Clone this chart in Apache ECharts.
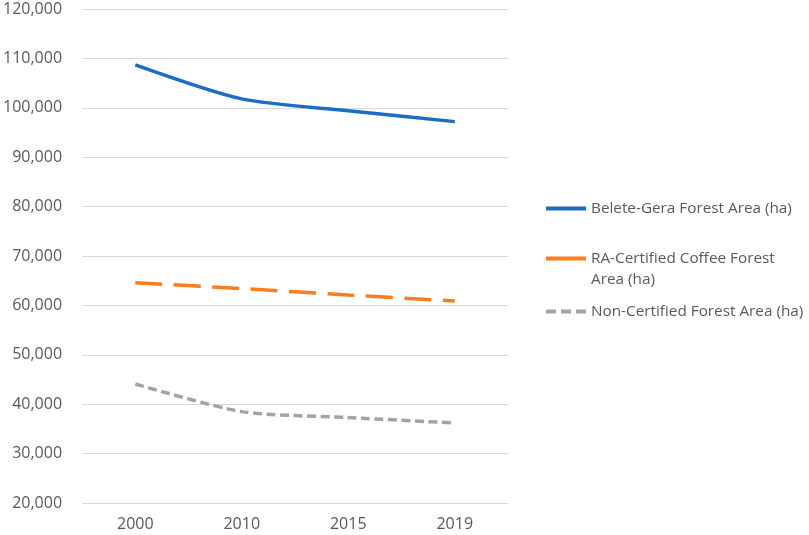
<!DOCTYPE html>
<html><head><meta charset="utf-8">
<script src="https://cdn.jsdelivr.net/npm/echarts@6/dist/echarts.min.js"></script>
<style>html,body{margin:0;padding:0;background:#fff}#c{width:809px;height:535px}</style>
</head><body><div id="c"></div>
<script>
const categories = ['2000', '2010', '2015', '2019'];
const beleteGera = [108700, 101800, 99400, 97200];
const raCertified = [64600, 63400, 62100, 60900];
const nonCertified = [44100, 38500, 37300, 36200];
const seriesNames = ['Belete-Gera Forest Area (ha)', 'RA-Certified Coffee Forest Area (ha)', 'Non-Certified Forest Area (ha)'];
const yTicks = [20000, 120000, 10000]; // min, max, step

const font = 'Open Sans, Noto Sans, sans-serif';
const txt = '#595959';
const colors = ['#1a6cc4', '#fb7d1e', '#a3a3a3'];
const chart = echarts.init(document.getElementById('c'));
const legendBase = {
  orient: 'vertical', left: 546, itemWidth: 40, itemHeight: 4, itemGap: 3, padding: 0,
  textStyle: { color: txt, fontSize: 15.3, fontFamily: font },
  selectedMode: false
};
chart.setOption({
  animation: false,
  grid: { left: 82, right: 301, top: 9, bottom: 32 },
  legend: [
    Object.assign({}, legendBase, { top: 201, data: [{ name: seriesNames[0], icon: 'rect' }] }),
    Object.assign({}, legendBase, { top: 251, data: [{ name: seriesNames[1], icon: 'rect' }],
      formatter: n => 'RA-Certified Coffee Forest' }),
    Object.assign({}, legendBase, { top: 304,
      data: [{ name: seriesNames[2], icon: 'path://M0,0h10v4h-10zM15,0h10v4h-10zM30,0h10v4h-10z' }] })
  ],
  graphic: [{
    type: 'text', left: 591, top: 272,
    style: { text: 'Area (ha)', fill: txt, font: '15.3px ' + font }
  }],
  xAxis: {
    type: 'category', data: categories, boundaryGap: true,
    axisLine: { show: false }, axisTick: { show: false },
    axisLabel: { color: txt, fontSize: 16, fontFamily: font, margin: 13 }
  },
  yAxis: {
    type: 'value', min: yTicks[0], max: yTicks[1], interval: yTicks[2],
    axisLine: { show: false }, axisTick: { show: false },
    splitLine: { lineStyle: { color: '#d9d9d9', width: 1 } },
    axisLabel: {
      color: txt, fontSize: 16, fontFamily: font, margin: 20,
      formatter: v => v.toLocaleString('en-US')
    }
  },
  series: [
    { name: seriesNames[0], type: 'line', data: beleteGera, smooth: 0.25, showSymbol: false, symbol: 'none',
      lineStyle: { color: colors[0], width: 3.5 }, itemStyle: { color: colors[0] } },
    { name: seriesNames[1], type: 'line', data: raCertified, smooth: 0.25, showSymbol: false, symbol: 'none',
      lineStyle: { color: colors[1], width: 3.5, type: [27, 11.5] }, itemStyle: { color: colors[1] } },
    { name: seriesNames[2], type: 'line', data: nonCertified, smooth: 0.25, showSymbol: false, symbol: 'none',
      lineStyle: { color: colors[2], width: 3.5, type: [9, 4.5] }, itemStyle: { color: colors[2] } }
  ]
});
</script></body></html>
